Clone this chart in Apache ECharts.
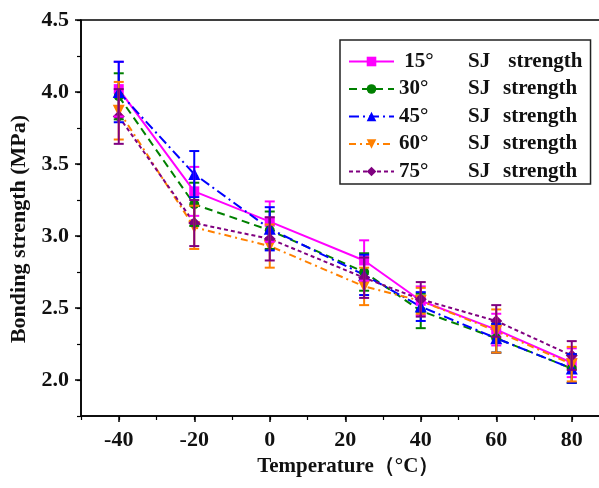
<!DOCTYPE html>
<html>
<head>
<meta charset="utf-8">
<script src="https://cdn.jsdelivr.net/npm/echarts@6/dist/echarts.min.js"></script>
<style>
  html, body { margin: 0; padding: 0; background: #fff; }
  #chart { width: 599px; height: 488px; }
</style>
</head>
<body>
<div id="chart"></div>
<script>
// Test temperatures (°C)
const temperatures = [-40, -20, 0, 25, 40, 60, 80];

// Mean bonding strength (MPa) for each SJ angle
const s15 = [4.02, 3.31, 3.10, 2.83, 2.55, 2.35, 2.12];
const s30 = [3.97, 3.22, 3.04, 2.75, 2.48, 2.29, 2.08];
const s45 = [4.00, 3.43, 3.05, 2.73, 2.51, 2.29, 2.08];
const s60 = [3.87, 3.06, 2.93, 2.65, 2.55, 2.34, 2.11];
const s75 = [3.83, 3.09, 2.98, 2.71, 2.56, 2.41, 2.17];

// Standard deviations (MPa)
const e15 = [0.19, 0.17, 0.14, 0.14, 0.10, 0.11, 0.10];
const e30 = [0.16, 0.15, 0.13, 0.13, 0.12, 0.10, 0.10];
const e45 = [0.21, 0.16, 0.15, 0.14, 0.10, 0.10, 0.10];
const e60 = [0.20, 0.15, 0.15, 0.13, 0.09, 0.15, 0.12];
const e75 = [0.19, 0.16, 0.15, 0.14, 0.12, 0.11, 0.10];

const seriesNames = ['15°', '30°', '45°', '60°', '75°'];
const xTickValues = [-40, -20, 0, 20, 40, 60, 80];
const yTickValues = [2.0, 2.5, 3.0, 3.5, 4.0, 4.5];

const FONT = '"Liberation Serif", "Times New Roman", serif';

const styles = [
  { color: '#ff00ff', symbol: 'rect', size: 10, dash: 'solid' },
  { color: '#008000', symbol: 'circle', size: 10, dash: [8, 5] },
  { color: '#0000ff', symbol: 'triangle', size: 12, dash: [10, 4, 2, 4] },
  { color: '#ff8000', symbol: 'path://M0,0 L10,0 L5,10 Z', size: 12, dash: [7, 4, 2, 4] },
  { color: '#800080', symbol: 'diamond', size: 12, dash: [4, 3] }
];

const means = [s15, s30, s45, s60, s75];
const errs = [e15, e30, e45, e60, e75];

const lineSeries = means.map((vals, i) => ({
  name: seriesNames[i],
  type: 'line',
  xAxisIndex: 0,
  yAxisIndex: 0,
  data: temperatures.map((t, k) => [t, vals[k]]),
  symbol: styles[i].symbol,
  symbolSize: styles[i].size,
  showSymbol: true,
  itemStyle: { color: styles[i].color },
  lineStyle: { color: styles[i].color, width: 2, type: styles[i].dash },
  z: 3
}));

// Vertical error bars with caps
const errorSeries = means.map((vals, i) => ({
  name: 'err' + i,
  type: 'custom',
  xAxisIndex: 0,
  yAxisIndex: 0,
  data: temperatures.map((t, k) => [t, vals[k] - errs[i][k], vals[k] + errs[i][k]]),
  encode: { x: 0, y: [1, 2] },
  z: 4,
  renderItem: function (params, api) {
    const x = api.value(0);
    const lo = api.coord([x, api.value(1)]);
    const hi = api.coord([x, api.value(2)]);
    const half = 5;
    const st = { stroke: styles[i].color, lineWidth: 2 };
    return {
      type: 'group',
      children: [
        { type: 'line', shape: { x1: hi[0], y1: hi[1], x2: lo[0], y2: lo[1] }, style: st },
        { type: 'line', shape: { x1: hi[0] - half, y1: hi[1], x2: hi[0] + half, y2: hi[1] }, style: st },
        { type: 'line', shape: { x1: lo[0] - half, y1: lo[1], x2: lo[0] + half, y2: lo[1] }, style: st }
      ]
    };
  }
}));

const chart = echarts.init(document.getElementById('chart'), null, { renderer: 'canvas' });

chart.setOption({
  backgroundColor: '#ffffff',
  animation: false,
  grid: {
    left: 81, top: 20, right: -10.5, bottom: 72,
    outerBoundsMode: 'none',
    containLabel: false,
    show: true, borderColor: '#000', borderWidth: 1.5, backgroundColor: 'transparent'
  },
  legend: {
    data: seriesNames,
    orient: 'vertical',
    left: 340,
    top: 40,
    padding: [11, 8, 2, 8],
    itemGap: 6.5,
    itemWidth: 45,
    itemHeight: 12,
    borderColor: '#222',
    borderWidth: 1.5,
    backgroundColor: '#fff',
    formatter: function (name) {
      if (name === '15°') return '{a| 15°}{b|SJ}{c| strength}';
      return '{a|' + name + '}{b|SJ}{c|strength}';
    },
    textStyle: {
      fontFamily: FONT, fontWeight: 'bold', fontSize: 21, color: '#111',
      rich: {
        a: { width: 69, fontFamily: FONT, fontWeight: 'bold', fontSize: 21, lineHeight: 22, color: '#111' },
        b: { width: 35, fontFamily: FONT, fontWeight: 'bold', fontSize: 21, lineHeight: 22, color: '#111' },
        c: { fontFamily: FONT, fontWeight: 'bold', fontSize: 21, lineHeight: 22, color: '#111' }
      }
    }
  },
  xAxis: [
    {
      type: 'value', min: -50, max: 90, position: 'bottom',
      name: 'Temperature（°C）', nameLocation: 'middle', nameGap: 40,
      nameTextStyle: { fontFamily: FONT, fontWeight: 'bold', fontSize: 21, color: '#111', padding: [0, 0, 0, 6] },
      axisLine: { show: true, onZero: false, lineStyle: { color: '#000', width: 1.5 } },
      axisTick: { show: true, length: 6, customValues: xTickValues, lineStyle: { color: '#000', width: 1.5 } },
      axisLabel: { customValues: xTickValues, margin: 13, fontFamily: FONT, fontWeight: 'bold', fontSize: 22, color: '#111' },
      splitLine: { show: false }
    },
    {
      type: 'value', min: -50, max: 90, interval: 10, position: 'bottom',
      axisLine: { show: false, onZero: false },
      axisTick: { show: true, length: 4, lineStyle: { color: '#000', width: 1.2 } },
      axisLabel: { show: false },
      splitLine: { show: false }
    }
  ],
  yAxis: [
    {
      type: 'value', min: 1.75, max: 4.5, position: 'left',
      name: 'Bonding strength (MPa)', nameLocation: 'middle', nameGap: 45,
      nameTextStyle: { fontFamily: FONT, fontWeight: 'bold', fontSize: 22, color: '#111', padding: [0, 22, 0, 0] },
      axisLine: { show: true, onZero: false, lineStyle: { color: '#000', width: 1.5 } },
      axisTick: { show: true, length: 6, customValues: yTickValues, lineStyle: { color: '#000', width: 1.5 } },
      axisLabel: {
        customValues: yTickValues, margin: 12,
        fontFamily: FONT, fontWeight: 'bold', fontSize: 22, color: '#111',
        formatter: v => v.toFixed(1)
      },
      splitLine: { show: false }
    },
    {
      type: 'value', min: 1.75, max: 4.5, interval: 0.25, position: 'left',
      axisLine: { show: false, onZero: false },
      axisTick: { show: true, length: 4, lineStyle: { color: '#000', width: 1.2 } },
      axisLabel: { show: false },
      splitLine: { show: false }
    }
  ],
  series: lineSeries.concat(errorSeries)
});
</script>
</body>
</html>
